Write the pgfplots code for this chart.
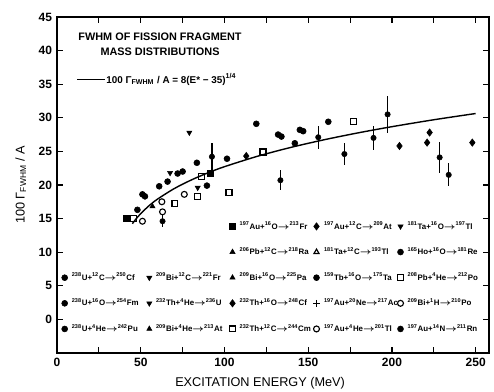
\documentclass[border=0pt]{standalone}
\usepackage{fontspec}
\setmainfont{Liberation Sans}
\usepackage{pgfplots}
\pgfplotsset{compat=1.18}
\newcommand{\rx}[6]{\makebox[49pt][l]{\textsuperscript{#1}#2+\textsuperscript{#3}#4$\boldsymbol{\rightarrow}$\textsuperscript{#5}#6}}
\usepackage{amsmath}
\pgfplotsset{
  lm/.style={only marks, mark size=2.1pt, black,
    legend image code/.code={\draw[mark repeat=2,mark phase=2,##1] plot coordinates {(0cm,0cm)(0.1cm,0cm)(0.2cm,0cm)};}},
}
\begin{document}
\begin{tikzpicture}
\begin{axis}[
  scale only axis, width=306pt, height=238pt,
  xmin=0, xmax=258, ymin=-5, ymax=45,
  xtick={0,50,...,250}, minor xtick={25,75,...,225},
  ytick={0,5,...,45},
  tick align=inside, major tick length=4pt, minor tick length=4pt,
  axis line style={line width=1pt},
  every tick/.style={black, line width=0.8pt},
  /pgf/number format/assume math mode=true,
  every tick label/.append style={font=\fontsize{8.5}{10}\selectfont\bfseries},
  xlabel={EXCITATION ENERGY (MeV)},
  ylabel={100 Γ\textsubscript{FWHM} / A},
  xlabel style={font=\fontsize{9}{11}\selectfont, at={(ticklabel cs:0.47)}, anchor=near ticklabel, yshift=-1pt},
  ylabel style={font=\fontsize{9}{11}\selectfont, at={(ticklabel cs:0.5)}, anchor=near ticklabel, yshift=2pt},
  legend columns=5,
  legend cell align=left,
  legend style={at={(axis cs:2,15.0)}, anchor=north west, draw=none, fill=none,
    font=\fontsize{5.6}{6.6}\selectfont\bfseries, inner sep=0pt, row sep=7.4pt, column sep=1pt},
]
% fitted curve (tabulated)
\addplot[forget plot, black, line width=1pt, smooth] coordinates {
 (45,14.23)(47,14.89)(50,15.74)(55,16.92)(60,17.89)(70,19.46)(80,20.72)(90,21.79)
 (100,22.72)(120,24.29)(140,25.61)(160,26.75)(180,27.76)(200,28.67)(225,29.70)(250,30.63)};
% filled circles
\addplot[forget plot, lm, mark=*] coordinates {
 (83.5,23.3)(119,29.1)(142,26.2)(162,29.4)(89.5,19.9)(66,20.5)(52.5,18.3)(48,16.3)
 (51,18.6)(72,21.7)(75,22)(132,27.5)(134,27.2)(145,28.2)(147,28.0)(61,19.8)(101.5,23.9)};
% filled diamonds
\addplot[forget plot, lm, mark=diamond*, mark size=2.6pt] coordinates {
 (113,24.3)(204.5,25.8)(221,26.3)(222.5,27.8)(248,26.3)};
% points with error bars
\addplot[forget plot, lm, mark=*, mark size=1.9pt,
  error bars/.cd, y dir=both, y explicit, error mark=none,
  error bar style={line width=0.9pt}] coordinates {
 (92.5,24.2) +- (0,2.0)
 (133.4,20.7) +- (0,1.5)
 (156,27.1) +- (0,1.7)
 (171.6,24.6) +- (0,1.6)
 (189,27.0) +- (0,1.8)
 (197.4,30.5) +- (0,2.8)
 (228.5,24.1) +- (0,2.3)
 (233.9,21.5) +- (0,1.7)
 (63,14.6) +- (0,0.9)};
% open squares
\addplot[forget plot, lm, mark=square, thick] coordinates {
 (70.4,17.2)(84,18.3)(102.7,18.9)(123,24.9)(177,29.4)(86.5,21.2)(45.7,15)};
% open circles
\addplot[forget plot, lm, mark=o, thick] coordinates {
 (62.6,17.5)(76,18.6)(63,16)(51,14.6)};
% filled down triangles
\addplot[forget plot, lm, mark=triangle*, mark options={rotate=180}] coordinates {
 (79,27.8)(84,19.6)(67.5,21.8)};
% filled up triangles
\addplot[forget plot, lm, mark=triangle*] coordinates {(57,16.8)};
% filled squares
\addplot[forget plot, lm, mark=square*] coordinates {(41.6,15)(91.3,21.8)};

% legend (5 columns, upper-left four cells empty)
\addlegendimage{empty legend}\addlegendentry{}
\addlegendimage{empty legend}\addlegendentry{}
\addlegendimage{lm, mark=square*}\addlegendentry{\rx{197}{Au}{16}{O}{213}{Fr}}
\addlegendimage{lm, mark=diamond*, mark size=2.6pt}\addlegendentry{\rx{197}{Au}{12}{C}{209}{At}}
\addlegendimage{lm, mark=triangle*, mark options={rotate=180}}\addlegendentry{\rx{181}{Ta}{16}{O}{197}{Tl}}
\addlegendimage{empty legend}\addlegendentry{}
\addlegendimage{empty legend}\addlegendentry{}
\addlegendimage{lm, mark=triangle*}\addlegendentry{\rx{206}{Pb}{12}{C}{218}{Ra}}
\addlegendimage{lm, mark=triangle, thick}\addlegendentry{\rx{181}{Ta}{12}{C}{193}{Tl}}
\addlegendimage{lm, mark=*}\addlegendentry{\rx{165}{Ho}{16}{O}{181}{Re}}
\addlegendimage{lm, mark=*}\addlegendentry{\rx{238}{U}{12}{C}{250}{Cf}}
\addlegendimage{lm, mark=triangle*, mark options={rotate=180}}\addlegendentry{\rx{209}{Bi}{12}{C}{221}{Fr}}
\addlegendimage{lm, mark=triangle*}\addlegendentry{\rx{209}{Bi}{16}{O}{225}{Pa}}
\addlegendimage{lm, mark=*}\addlegendentry{\rx{159}{Tb}{16}{O}{175}{Ta}}
\addlegendimage{lm, mark=square, thick}\addlegendentry{\rx{208}{Pb}{4}{He}{212}{Po}}
\addlegendimage{lm, mark=*}\addlegendentry{\rx{238}{U}{16}{O}{254}{Fm}}
\addlegendimage{lm, mark=triangle*, mark options={rotate=180}}\addlegendentry{\rx{232}{Th}{4}{He}{236}{U}}
\addlegendimage{lm, mark=diamond*, mark size=2.6pt}\addlegendentry{\rx{232}{Th}{16}{O}{248}{Cf}}
\addlegendimage{lm, mark=+, thick, mark size=2.4pt}\addlegendentry{\rx{197}{Au}{20}{Ne}{217}{Ac}}
\addlegendimage{lm, mark=o, thick}\addlegendentry{\rx{209}{Bi}{1}{H}{210}{Po}}
\addlegendimage{lm, mark=*}\addlegendentry{\rx{238}{U}{4}{He}{242}{Pu}}
\addlegendimage{lm, mark=triangle*}\addlegendentry{\rx{209}{Bi}{4}{He}{213}{At}}
\addlegendimage{lm, mark=square, thick}\addlegendentry{\rx{232}{Th}{12}{C}{244}{Cm}}
\addlegendimage{lm, mark=o, thick}\addlegendentry{\rx{197}{Au}{4}{He}{201}{Tl}}
\addlegendimage{lm, mark=*}\addlegendentry{\rx{197}{Au}{14}{N}{211}{Rn}}

% annotations
\node[font=\fontsize{7.7}{10.6}\selectfont\bfseries, align=center] at (axis cs:61.5,41.0)
  {FWHM OF FISSION FRAGMENT\\MASS DISTRIBUTIONS};
\draw[line width=1pt] (axis cs:12,35.7) -- (axis cs:28.5,35.7);
\node[font=\fontsize{7}{9}\selectfont\bfseries, anchor=west, inner sep=1pt] at (axis cs:28.5,35.7)
  {100 Γ\textsubscript{FWHM} / A = 8(E* − 35)\textsuperscript{1/4}};
\end{axis}
\pgfresetboundingbox
\path[use as bounding box] ([shift={(-40.4pt,-27.6pt)}]current axis.south west) rectangle ([shift={(3.5pt,12pt)}]current axis.north east);
\end{tikzpicture}
\end{document}
